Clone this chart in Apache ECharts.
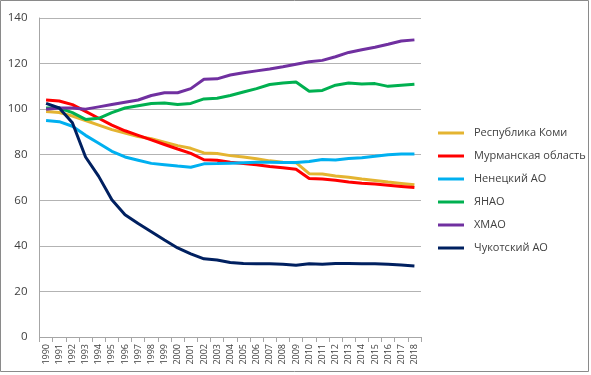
<!DOCTYPE html>
<html>
<head>
<meta charset="utf-8">
<script src="https://cdn.jsdelivr.net/npm/echarts@6/dist/echarts.min.js"></script>
<style>
  html, body { margin: 0; padding: 0; background: #fff; }
  #chart { width: 591px; height: 375px; }
</style>
</head>
<body>
<div id="chart"></div>
<script>
    var years = ['1990','1991','1992','1993','1994','1995','1996','1997','1998','1999',
                 '2000','2001','2002','2003','2004','2005','2006','2007','2008','2009',
                 '2010','2011','2012','2013','2014','2015','2016','2017','2018'];

    var komi = [99, 98.5, 97, 95, 93, 91, 89.5, 88, 87, 85.5,
                84, 82.8, 80.8, 80.5, 79.6, 79, 78.2, 77.3, 76.7, 76.5,
                71.7, 71.5, 70.7, 70.1, 69.3, 68.7, 68, 67.4, 66.8];
    var murmansk = [104, 103.6, 102, 99, 96, 93, 90.5, 88.5, 86.5, 84.5,
                    82.5, 80.6, 77.8, 77.6, 76.7, 76.1, 75.6, 74.8, 74.3, 73.6,
                    69.6, 69.3, 68.8, 68, 67.5, 67.1, 66.6, 66.1, 65.6];
    var nenets = [95, 94.5, 92.5, 88.5, 85, 81.5, 79, 77.6, 76.2, 75.6,
                  75, 74.5, 76, 76.1, 76.3, 76.5, 76.7, 76.7, 76.6, 76.6,
                  77, 77.9, 77.7, 78.3, 78.7, 79.3, 80, 80.3, 80.3];
    var yanao = [100.5, 100.5, 98.5, 95.5, 96, 98.5, 100.5, 101.5, 102.5, 102.7,
                 102, 102.5, 104.5, 104.8, 106, 107.5, 109, 110.8, 111.5, 111.9,
                 107.9, 108.2, 110.5, 111.5, 111, 111.2, 110, 110.5, 110.9];
    var hmao = [100, 100.5, 100.5, 100, 101, 102, 103, 104, 106, 107.2,
                107.2, 109, 113.1, 113.3, 115, 116, 116.8, 117.6, 118.6, 119.7,
                120.8, 121.4, 123, 124.9, 126.1, 127.2, 128.5, 129.9, 130.4];
    var chukotka = [102.5, 100.5, 94, 79, 70.5, 60.2, 53.7, 49.8, 46.2, 42.6,
                    39.1, 36.5, 34.3, 33.8, 32.7, 32.3, 32.1, 32.1, 31.9, 31.5,
                    32.1, 31.9, 32.3, 32.3, 32.1, 32.1, 31.9, 31.6, 31.2];

    var yTicks = { min: 0, max: 140, interval: 20 };

    var names = ['Республика Коми', 'Мурманская область', 'Ненецкий АО', 'ЯНАО', 'ХМАО', 'Чукотский АО'];
    var colors = ['#E4B431', '#FF0000', '#00B0F0', '#00B050', '#7030A0', '#002060'];
    var values = [komi, murmansk, nenets, yanao, hmao, chukotka];

    var chart = echarts.init(document.getElementById('chart'));
    var series = names.map(function (n, i) {
        return {
            name: n,
            type: 'line',
            data: values[i],
            symbol: 'none',
            smooth: false,
            lineStyle: { width: 3, color: colors[i] },
            itemStyle: { color: colors[i] }
        };
    });

    var option = {
        animation: false,
        textStyle: { fontFamily: 'Open Sans' },
        graphic: [{
            type: 'rect',
            shape: { x: 0.5, y: 0.5, width: 588, height: 371 },
            style: { fill: 'none', stroke: '#8a8a8a', lineWidth: 1 },
            z: 100
        }],
        grid: { left: 39.5, right: 170, top: 18, bottom: 38 },
        legend: {
            orient: 'vertical',
            left: 433,
            top: 121,
            icon: 'rect',
            itemWidth: 26,
            itemHeight: 3,
            itemGap: 9,
            textStyle: { fontSize: 11, color: '#404040', lineHeight: 14, fontFamily: 'Open Sans', padding: [0, 0, 0, 5] },
            data: names
        },
        xAxis: {
            type: 'category',
            data: years,
            boundaryGap: true,
            axisLine: { lineStyle: { color: '#A6A6A6' } },
            axisTick: { show: true, length: 5, interval: 0, lineStyle: { color: '#A6A6A6' } },
            axisLabel: { interval: 0, rotate: 90, fontSize: 9, color: '#404040', margin: 7 }
        },
        yAxis: {
            type: 'value',
            min: yTicks.min,
            max: yTicks.max,
            interval: yTicks.interval,
            axisLine: { show: true, lineStyle: { color: '#A6A6A6' } },
            axisTick: { show: false },
            splitLine: { lineStyle: { color: '#B3B3B3' } },
            axisLabel: { fontSize: 11.5, color: '#404040', margin: 12 }
        },
        series: series
    };
    chart.setOption(option);
</script>
</body>
</html>
